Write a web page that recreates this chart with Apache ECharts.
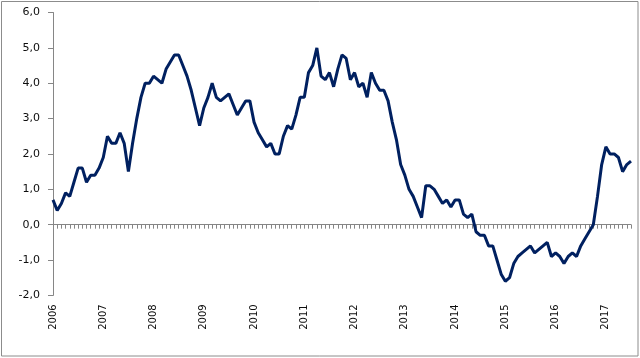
<!DOCTYPE html>
<html><head><meta charset="utf-8">
<script src="https://cdn.jsdelivr.net/npm/echarts@6/dist/echarts.min.js"></script>
<style>html,body{margin:0;padding:0;background:#fff}#c{width:640px;height:358px}</style>
</head><body><div id="c"></div>
<script>
const years = ['2006','2007','2008','2009','2010','2011','2012','2013','2014','2015','2016','2017'];
const months = ['01','02','03','04','05','06','07','08','09','10','11','12'];
const values2006_2007 = [0.7,0.4,0.6,0.9,0.8,1.2,1.6,1.6,1.2,1.4,1.4,1.6, 1.9,2.5,2.3,2.3,2.6,2.3,1.5,2.3,3.0,3.6,4.0,4.0];
const values2008_2009 = [4.2,4.1,4.0,4.4,4.6,4.8,4.8,4.5,4.2,3.8,3.3,2.8, 3.3,3.6,4.0,3.6,3.5,3.6,3.7,3.4,3.1,3.3,3.5,3.5];
const values2010_2011 = [2.9,2.6,2.4,2.2,2.3,2.0,2.0,2.5,2.8,2.7,3.1,3.6, 3.6,4.3,4.5,5.0,4.2,4.1,4.3,3.9,4.4,4.8,4.7,4.1];
const values2012_2013 = [4.3,3.9,4.0,3.6,4.3,4.0,3.8,3.8,3.5,2.9,2.4,1.7, 1.4,1.0,0.8,0.5,0.2,1.1,1.1,1.0,0.8,0.6,0.7,0.5];
const values2014_2015 = [0.7,0.7,0.3,0.2,0.3,-0.2,-0.3,-0.3,-0.6,-0.6,-1.0,-1.4, -1.6,-1.5,-1.1,-0.9,-0.8,-0.7,-0.6,-0.8,-0.7,-0.6,-0.5,-0.9];
const values2016_2017 = [-0.8,-0.9,-1.1,-0.9,-0.8,-0.9,-0.6,-0.4,-0.2,0.0,0.8,1.7, 2.2,2.0,2.0,1.9,1.5,1.7,1.8];
const yTicks = [-2,-1,0,1,2,3,4,5,6];

const values = [].concat(values2006_2007, values2008_2009, values2010_2011, values2012_2013, values2014_2015, values2016_2017);
const categories = [];
years.forEach(y => months.forEach(m => categories.push(y + '-' + m)));
categories.length = values.length;

const fmt = v => Number(v).toFixed(1).replace('.', ',');
const axisGray = '#868686';
const chart = echarts.init(document.getElementById('c'), null, {renderer: 'canvas'});
chart.setOption({
  animation: false,
  backgroundColor: '#ffffff',
  textStyle: {fontFamily: 'DejaVu Sans'},
  grid: {left: 53, right: 9, top: 12.5, bottom: 62.6, containLabel: false, outerBoundsMode: 'none'},
  graphic: [{type: 'rect', shape: {x: 1.5, y: 1.5, width: 636.5, height: 354.5}, style: {fill: 'none', stroke: '#8c8c8c', lineWidth: 1}, silent: true}],
  xAxis: [{
    type: 'category', data: categories, boundaryGap: false, position: 'bottom',
    axisLine: {show: true, onZero: true, lineStyle: {color: axisGray, width: 1}},
    axisTick: {show: true, interval: 0, length: 4, inside: false, lineStyle: {color: axisGray}},
    axisLabel: {show: false}, splitLine: {show: false}
  }, {
    type: 'category', data: categories, boundaryGap: false, position: 'bottom',
    axisLine: {show: false, onZero: false}, axisTick: {show: false},
    axisLabel: {show: true, interval: 11, rotate: 90, margin: 9, fontSize: 10, color: '#0d0d0d',
      fontFamily: 'DejaVu Sans', formatter: v => v.slice(0, 4)},
    splitLine: {show: false}
  }],
  yAxis: {
    type: 'value', min: yTicks[0], max: yTicks[yTicks.length - 1], interval: 1,
    axisLine: {show: true, lineStyle: {color: axisGray, width: 1}},
    axisTick: {show: true, length: 5, lineStyle: {color: axisGray}},
    axisLabel: {fontSize: 11, color: '#0d0d0d', margin: 13, fontFamily: 'DejaVu Sans', formatter: fmt},
    splitLine: {show: false}
  },
  series: [{
    type: 'line', data: values, xAxisIndex: 0, showSymbol: false, symbol: 'none',
    lineStyle: {color: '#002060', width: 3}, smooth: false
  }]
});
</script></body></html>
